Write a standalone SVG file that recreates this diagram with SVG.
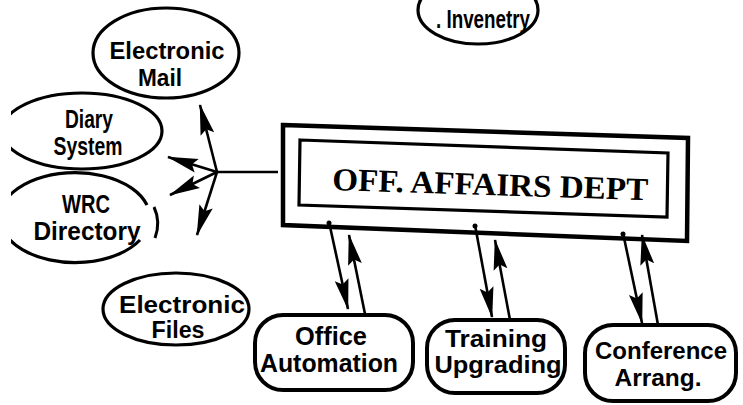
<svg xmlns="http://www.w3.org/2000/svg" width="743" height="405" viewBox="0 0 743 405">
  <style>
    .shape { fill: #fff; stroke: #000; stroke-width: 3.2; }
    .box { fill: #fff; stroke: #000; stroke-width: 4; }
    .lbl { font-family: "Liberation Sans", Arial, sans-serif; font-weight: bold; font-size: 24px; fill: #000; }
    .mid { font-size: 25px; }
    .small { font-size: 23px; }
    .title { font-family: "Liberation Serif", "Times New Roman", serif; font-weight: bold; font-size: 32px; fill: #000; }
    .wire { fill: none; stroke: #000; stroke-width: 2.6; }
  </style>
  <defs>
    <marker id="head" markerUnits="userSpaceOnUse" viewBox="0 -8 32 16" markerWidth="32" markerHeight="16" refX="30" refY="0" orient="auto">
      <path d="M0,-7 L31,0 L0,7 L5,0 z" fill="#000"/>
    </marker>
    <clipPath id="leftcut">
      <rect x="11" y="0" width="732" height="405"/>
    </clipPath>
  </defs>

  <rect width="743" height="405" fill="#fff"/>

  <!-- satellite systems -->
  <g id="inventory">
    <ellipse class="shape" cx="478" cy="10" rx="60" ry="34"/>
    <text class="lbl mid" x="436" y="28" textLength="94" lengthAdjust="spacingAndGlyphs">. Invenetry</text>
  </g>

  <g id="electronic-mail">
    <ellipse class="shape" cx="166" cy="53" rx="73" ry="45"/>
    <text class="lbl" x="167" y="59" text-anchor="middle" textLength="115" lengthAdjust="spacingAndGlyphs">Electronic</text>
    <text class="lbl" x="160" y="86" text-anchor="middle" textLength="44" lengthAdjust="spacingAndGlyphs">Mail</text>
  </g>

  <g id="diary-system" clip-path="url(#leftcut)">
    <ellipse class="shape" cx="82" cy="131" rx="80" ry="38"/>
    <text class="lbl mid" x="89" y="128" text-anchor="middle" textLength="48" lengthAdjust="spacingAndGlyphs">Diary</text>
    <text class="lbl mid" x="88" y="155" text-anchor="middle" textLength="69" lengthAdjust="spacingAndGlyphs">System</text>
  </g>

  <g id="wrc-directory" clip-path="url(#leftcut)">
    <path class="shape" d="M147,205 A75,45 0 1 0 140,240"/>
    <path d="M154,207 Q161,222 155,238" fill="none" stroke="#000" stroke-width="3"/>
    <text class="lbl mid" x="86" y="213" text-anchor="middle" textLength="48" lengthAdjust="spacingAndGlyphs">WRC</text>
    <text class="lbl mid" x="87" y="240" text-anchor="middle" textLength="107" lengthAdjust="spacingAndGlyphs">Directory</text>
  </g>

  <g id="electronic-files">
    <ellipse class="shape" cx="176" cy="309" rx="73" ry="36"/>
    <text class="lbl small" x="182" y="313" text-anchor="middle" textLength="126" lengthAdjust="spacingAndGlyphs">Electronic</text>
    <text class="lbl small" x="178" y="338" text-anchor="middle" textLength="53" lengthAdjust="spacingAndGlyphs">Files</text>
  </g>

  <!-- central department -->
  <g id="off-affairs-dept">
    <polygon points="283,125 688,138 687,241 283,225" fill="#fff" stroke="#000" stroke-width="4.5"/>
    <polygon points="300,140 668,153 667,217 299,205" fill="#fff" stroke="#000" stroke-width="3.2"/>
    <text class="title" x="332" y="190" textLength="316" lengthAdjust="spacingAndGlyphs" transform="rotate(1.85 332 190)">OFF. AFFAIRS DEPT</text>
  </g>

  <!-- service units -->
  <g id="office-automation">
    <rect class="box" x="255" y="315" width="158" height="75" rx="28"/>
    <text class="lbl mid" x="331" y="345" text-anchor="middle" textLength="72" lengthAdjust="spacingAndGlyphs">Office</text>
    <text class="lbl mid" x="329" y="372" text-anchor="middle" textLength="138" lengthAdjust="spacingAndGlyphs">Automation</text>
  </g>

  <g id="training-upgrading">
    <rect class="box" x="427" y="320" width="138" height="73" rx="28"/>
    <text class="lbl" x="496" y="347" text-anchor="middle" textLength="102" lengthAdjust="spacingAndGlyphs">Training</text>
    <text class="lbl" x="498" y="373" text-anchor="middle" textLength="127" lengthAdjust="spacingAndGlyphs">Upgrading</text>
  </g>

  <g id="conference-arrang">
    <rect class="box" x="585" y="325" width="151" height="76" rx="28"/>
    <text class="lbl" x="661" y="359" text-anchor="middle" textLength="132" lengthAdjust="spacingAndGlyphs">Conference</text>
    <text class="lbl" x="658" y="386" text-anchor="middle" textLength="87" lengthAdjust="spacingAndGlyphs">Arrang.</text>
  </g>

  <!-- connectors -->
  <g id="connectors">
    <!-- hub linking the department to the left-hand systems -->
    <line class="wire" x1="216" y1="172" x2="278" y2="172"/>
    <line class="wire" x1="217" y1="172" x2="200" y2="105" marker-end="url(#head)"/>
    <line class="wire" x1="217" y1="172" x2="168" y2="157" marker-end="url(#head)"/>
    <line class="wire" x1="217" y1="172" x2="170" y2="195" marker-end="url(#head)"/>
    <line class="wire" x1="217" y1="172" x2="197" y2="235" marker-end="url(#head)"/>

    <!-- department to / from service units -->
    <line class="wire" x1="329" y1="222" x2="348" y2="309" marker-end="url(#head)"/>
    <line class="wire" x1="365" y1="314" x2="349" y2="235" marker-end="url(#head)"/>
    <circle cx="329" cy="223" r="2.5"/>

    <line class="wire" x1="475" y1="225" x2="492" y2="317" marker-end="url(#head)"/>
    <line class="wire" x1="510" y1="320" x2="495" y2="240" marker-end="url(#head)"/>
    <circle cx="475" cy="226" r="2.5"/>

    <line class="wire" x1="623" y1="233" x2="642" y2="323" marker-end="url(#head)"/>
    <line class="wire" x1="658" y1="325" x2="642" y2="235" marker-end="url(#head)"/>
    <circle cx="623" cy="234" r="2.5"/>
  </g>
</svg>
